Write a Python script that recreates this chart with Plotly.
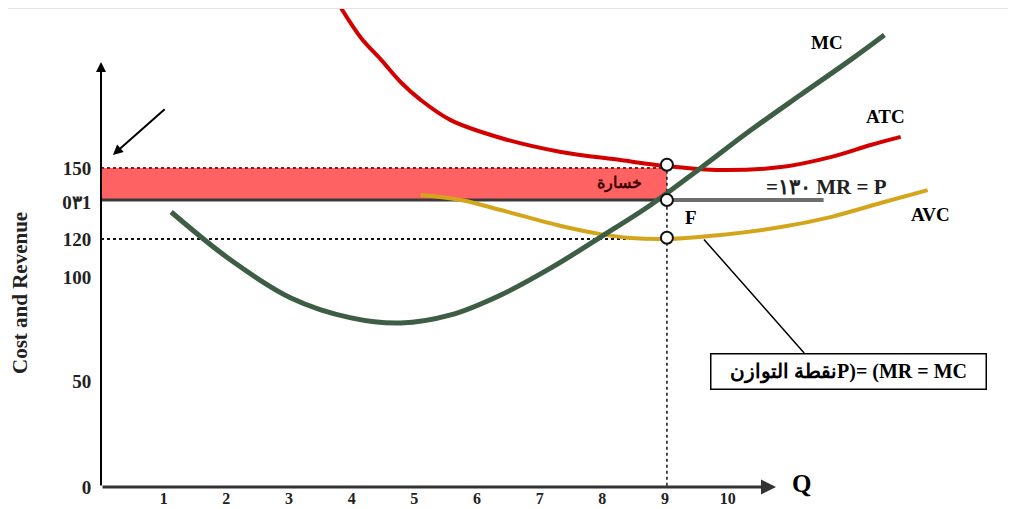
import plotly.graph_objects as go

# ---- data (schematic units: x = quantity, y = cost level on the drawn scale) ----
mc_x = [1.12, 2.07, 3.03, 3.99, 4.78, 5.58, 6.38, 7.18, 7.97, 8.77, 9.57, 10.37, 11.16, 11.96, 12.50]
mc_y = [129.3, 106.7, 88.9, 79.5, 77.1, 80.9, 90.3, 103.0, 117.5, 132.6, 150.0, 167.8, 184.3, 200.8, 212.5]

atc_x = [3.83, 4.15, 4.47, 4.78, 5.10, 5.58, 6.38, 7.34, 8.29, 9.01, 9.89, 10.85, 11.64, 12.28, 12.76]
atc_y = [225.2, 211.1, 200.8, 190.4, 182.0, 172.5, 164.1, 157.5, 153.7, 150.9, 149.0, 150.4, 155.1, 160.8, 164.6]

avc_x = [5.10, 5.74, 6.38, 7.34, 7.97, 8.45, 9.01, 9.89, 10.85, 11.64, 12.44, 13.19]
avc_y = [137.3, 134.9, 130.2, 122.7, 118.9, 117.1, 116.6, 118.5, 122.2, 126.9, 133.5, 139.6]

q_eq = 9.03
atc_eq = 151.5
price = 134.9
avc_eq = 117.2
level_150 = 150.0
level_120 = 116.6
mr_end = 11.53

x_ticks = [1, 2, 3, 4, 5, 6, 7, 8, 9, 10]
x_tick_text = ["1", "2", "3", "4", "5", "6", "7", "8", "9", "10"]
y_ticks = [0, 49.8, 98.7, 116.6, 134.0, 150.0]
y_tick_text = ["0", "50", "100", "120", "0٣1", "150"]

SERIF = "Liberation Serif"

fig = go.Figure()

# loss rectangle
fig.add_shape(type="rect", x0=0, x1=q_eq, y0=price, y1=level_150,
              fillcolor="#ff6262", line=dict(width=0), layer="below")
fig.add_trace(go.Scatter(x=[0, q_eq], y=[level_150, level_150], mode="lines",
                         line=dict(color="#8b1a1a", width=2, dash="dot"), hoverinfo="skip"))
fig.add_trace(go.Scatter(x=[0, q_eq], y=[price, price], mode="lines",
                         line=dict(color="#3a3a3a", width=3), hoverinfo="skip"))
# MR = P line
fig.add_trace(go.Scatter(x=[q_eq, mr_end], y=[price, price], mode="lines",
                         line=dict(color="#6e6e6e", width=4), hoverinfo="skip"))
# dotted guides
fig.add_trace(go.Scatter(x=[0, q_eq], y=[level_120, level_120], mode="lines",
                         line=dict(color="#111111", width=2, dash="dot"), hoverinfo="skip"))
fig.add_trace(go.Scatter(x=[q_eq, q_eq], y=[atc_eq, 0], mode="lines",
                         line=dict(color="#111111", width=1.5, dash="dot"), hoverinfo="skip"))

# curves
fig.add_trace(go.Scatter(x=avc_x, y=avc_y, mode="lines", line=dict(color="#d4a51a", width=4, shape="spline"),
                         hoverinfo="skip"))
fig.add_trace(go.Scatter(x=atc_x, y=atc_y, mode="lines", line=dict(color="#d40000", width=4, shape="spline"),
                         hoverinfo="skip"))
fig.add_trace(go.Scatter(x=mc_x, y=mc_y, mode="lines", line=dict(color="#3d5e45", width=5, shape="spline"),
                         hoverinfo="skip"))

# equilibrium points
fig.add_trace(go.Scatter(x=[q_eq, q_eq, q_eq], y=[atc_eq, price, avc_eq], mode="markers",
                         marker=dict(symbol="circle", size=12, color="white",
                                     line=dict(color="#111111", width=2)), hoverinfo="skip"))

# axis arrows
fig.add_annotation(x=0, y=199.8, ax=0, ay=0, xref="x", yref="y", axref="x", ayref="y",
                   showarrow=True, arrowhead=2, arrowsize=1, arrowwidth=2, arrowcolor="black", text="")
fig.add_annotation(x=10.77, y=0, ax=0, ay=0, xref="x", yref="y", axref="x", ayref="y",
                   showarrow=True, arrowhead=2, arrowsize=1, arrowwidth=3, arrowcolor="#333333", text="")
# diagonal arrow near the loss area
fig.add_annotation(x=0.19, y=156.1, ax=1.04, ay=178.2, xref="x", yref="y", axref="x", ayref="y",
                   showarrow=True, arrowhead=2, arrowsize=1, arrowwidth=2, arrowcolor="black", text="")
# leader line to the box
fig.add_annotation(x=11.22, y=63.0, ax=9.60, ay=117.1, xref="x", yref="y", axref="x", ayref="y",
                   showarrow=True, arrowhead=0, arrowwidth=1.5, arrowcolor="black", text="")

def label(x, y, t, size=15, color="black"):
    fig.add_annotation(x=x, y=y, xref="x", yref="y", text="<b>" + t + "</b>", showarrow=False,
                       font=dict(family=SERIF, size=size, color=color))

label(11.58, 209.2, "MC", size=19)
label(12.52, 174.4, "ATC", size=19)
label(13.24, 127.9, "AVC", size=19)
label(9.41, 126.5, "F", size=19)
label(11.18, 1.8, "Q", size=25)
label(11.58, 141.0, "=١٣٠ MR = P", size=21, color="#222222")
label(8.27, 142.9, "خسارة", size=16, color="#3a0000")

fig.add_annotation(x=11.92, y=54.5, xref="x", yref="y", text="<b>نقطة التوازنP)= (MR = MC</b>",
                   showarrow=False, font=dict(family=SERIF, size=20, color="black"),
                   bordercolor="black", borderwidth=1.5, bgcolor="white", width=272, height=32)

fig.add_annotation(x=-0.0885, y=0.405, xref="paper", yref="paper", xanchor="center", yanchor="middle",
                   text="<b>Cost and Revenue</b>", textangle=-90, showarrow=False,
                   font=dict(family=SERIF, size=21, color="#222222"))
fig.add_shape(type="line", xref="paper", yref="paper", x0=-0.12, x1=1, y0=1, y1=1,
              line=dict(color="#e4e4e4", width=2))

fig.update_layout(
    width=1008, height=501, margin=dict(l=93, r=0, t=0, b=22),
    paper_bgcolor="white", plot_bgcolor="white", showlegend=False,
    xaxis=dict(range=[0, 14.6], showgrid=False, zeroline=False, showline=False, automargin=False,
               tickvals=x_ticks, ticktext=x_tick_text, ticks="",
               tickfont=dict(family=SERIF, size=16, color="#222222", weight="bold")),
    yaxis=dict(range=[0, 225.2], showgrid=False, zeroline=False, showline=False, automargin=False,
               tickvals=y_ticks, ticktext=y_tick_text, ticks="outside", ticklen=5,
               tickcolor="rgba(0,0,0,0)",
               tickfont=dict(family=SERIF, size=19, color="#222222", weight="bold")),
)
fig.write_html("out.html")
